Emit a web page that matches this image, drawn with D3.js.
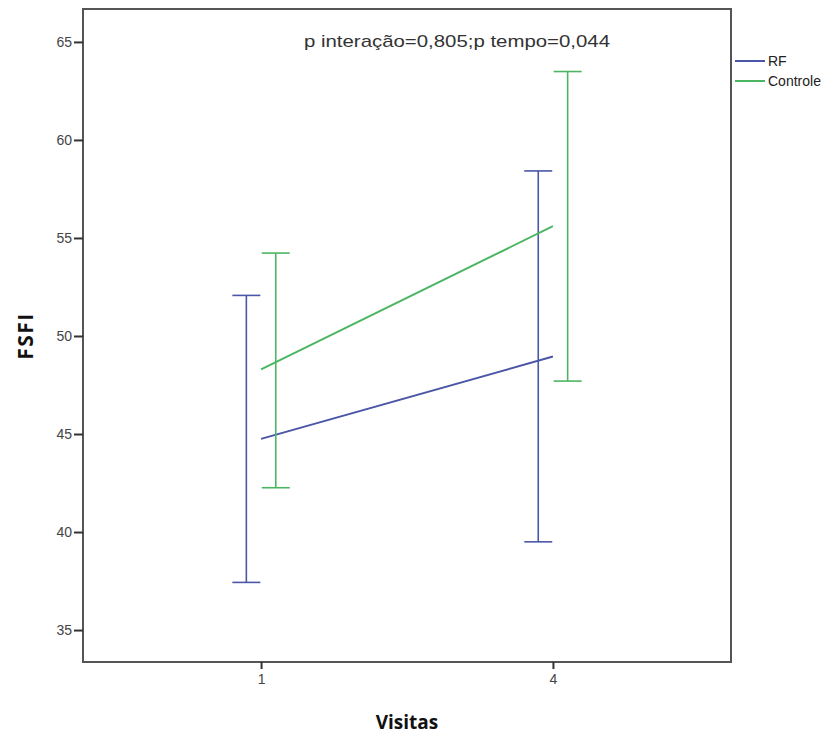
<!DOCTYPE html>
<html>
<head>
<meta charset="utf-8">
<script src="https://cdn.jsdelivr.net/npm/d3@7"></script>
<style>
body { margin: 0; background: #fff; }
text { font-family: Arial, "Liberation Sans", sans-serif; }
</style>
</head>
<body>
<svg id="chart" width="836" height="737"></svg>
<script>
var width = 836,
	height = 737;

// data
var visits = ["1", "4"];
var groups = ["RF", "Controle"];
var colors = ["#4a56a6", "#4cb562"];
var meanRF = [44.75, 48.95];
var lowRF = [37.43, 39.5];
var highRF = [52.07, 58.42];
var meanCtrl = [48.3, 55.6];
var lowCtrl = [42.26, 47.7];
var highCtrl = [54.23, 63.49];
var yTicks = [35, 40, 45, 50, 55, 60, 65];
var note = "p interação=0,805;p tempo=0,044";

// plot frame (window.top is read only, so no bare "top")
var plotLeft = 83, plotRight = 731, plotTop = 9, plotBottom = 662;

var svg = d3.select("#chart");

var x = d3.scalePoint()
	.domain(visits)
	.range([plotLeft, plotRight])
	.padding(0.61);

var y = d3.scaleLinear()
	.domain([33.37, 66.68])
	.range([plotBottom, plotTop]);

var offset = d3.scalePoint()
	.domain(groups)
	.range([-14.7, 14.7]);

var series = [
	{ name: groups[0], color: colors[0], mean: meanRF, low: lowRF, high: highRF },
	{ name: groups[1], color: colors[1], mean: meanCtrl, low: lowCtrl, high: highCtrl }
];

// frame
svg.append("rect")
	.attr("x", plotLeft)
	.attr("y", plotTop)
	.attr("width", plotRight - plotLeft)
	.attr("height", plotBottom - plotTop)
	.attr("fill", "none")
	.attr("stroke", "#555")
	.attr("stroke-width", 2);

// y axis
var yAxis = svg.append("g")
	.attr("transform", "translate(" + plotLeft + ",0)")
	.call(d3.axisLeft(y).tickValues(yTicks).tickSize(9).tickPadding(2));
yAxis.select(".domain").remove();
yAxis.selectAll("line").attr("stroke", "#333").attr("stroke-width", 2);
yAxis.selectAll("text").attr("fill", "#444").style("font-size", "14px");

// x axis
var xAxis = svg.append("g")
	.attr("transform", "translate(0," + plotBottom + ")")
	.call(d3.axisBottom(x).tickSize(7).tickPadding(5));
xAxis.select(".domain").remove();
xAxis.selectAll("line").attr("stroke", "#333").attr("stroke-width", 2);
xAxis.selectAll("text").attr("fill", "#444").style("font-size", "14px");

// mean lines (drawn at the category centres)
var line = d3.line()
	.x(function(d, i) { return x(visits[i]); })
	.y(function(d) { return y(d); });

series.forEach(function(s) {
	svg.append("path")
		.datum(s.mean)
		.attr("d", line)
		.attr("fill", "none")
		.attr("stroke", s.color)
		.attr("stroke-width", 2);

	var bars = svg.append("g").selectAll("g")
		.data(visits)
	.enter().append("g")
		.attr("stroke", s.color)
		.attr("stroke-width", 1.6);

	bars.append("line")
		.attr("x1", function(d) { return x(d) + offset(s.name); })
		.attr("x2", function(d) { return x(d) + offset(s.name); })
		.attr("y1", function(d, i) { return y(s.low[i]); })
		.attr("y2", function(d, i) { return y(s.high[i]); });

	bars.append("line")
		.attr("x1", function(d) { return x(d) + offset(s.name) - 14; })
		.attr("x2", function(d) { return x(d) + offset(s.name) + 14; })
		.attr("y1", function(d, i) { return y(s.high[i]); })
		.attr("y2", function(d, i) { return y(s.high[i]); });

	bars.append("line")
		.attr("x1", function(d) { return x(d) + offset(s.name) - 14; })
		.attr("x2", function(d) { return x(d) + offset(s.name) + 14; })
		.attr("y1", function(d, i) { return y(s.low[i]); })
		.attr("y2", function(d, i) { return y(s.low[i]); });
});

// annotation
svg.append("text")
	.attr("x", 304)
	.attr("y", 47)
	.attr("fill", "#333")
	.attr("textLength", 306)
	.attr("lengthAdjust", "spacingAndGlyphs")
	.style("font-size", "17px")
	.text(note);

// legend
var legend = svg.append("g").selectAll("g")
	.data(series)
.enter().append("g")
	.attr("transform", function(d, i) { return "translate(735," + (61 + i * 20) + ")"; });

legend.append("line")
	.attr("x1", 0)
	.attr("x2", 30)
	.attr("stroke", function(d) { return d.color; })
	.attr("stroke-width", 2);

legend.append("text")
	.attr("x", 33)
	.attr("dy", "0.35em")
	.attr("fill", "#222")
	.style("font-size", "14px")
	.text(function(d) { return d.name; });

// axis titles
svg.append("text")
	.attr("x", 407)
	.attr("y", 729)
	.attr("text-anchor", "middle")
	.attr("fill", "#111")
	.style("font-family", "'Open Sans', sans-serif")
	.style("font-weight", "bold")
	.style("font-size", "19px")
	.text("Visitas");

svg.append("text")
	.attr("transform", "translate(33,336) rotate(-90)")
	.attr("text-anchor", "middle")
	.attr("fill", "#111")
	.style("font-family", "'Open Sans', sans-serif")
	.style("font-weight", "bold")
	.style("font-size", "21px")
	.style("letter-spacing", "1.5px")
	.text("FSFI");
</script>
</body>
</html>
